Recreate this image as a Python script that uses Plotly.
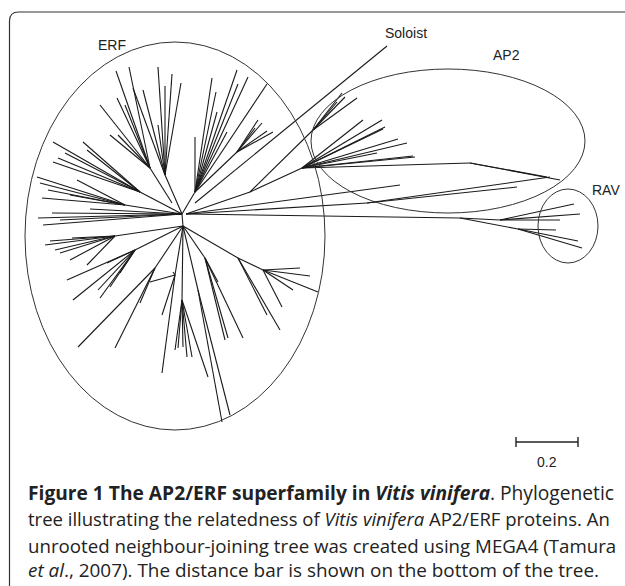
import plotly.graph_objects as go

W, H = 625, 586

# ---- tree layout (pixel-space coordinates) ----
hub_top = (182, 214)
hub_bot = (183, 226)

# ERF clades: (node, parent, tips)
erf_a_node, erf_a_parent = (165, 175), hub_top
erf_a_tips = [(158, 67), (172, 74), (165, 86), (181, 83), (143, 90), (133, 88), (158, 125)]

erf_b_node, erf_b_parent = (150, 168), (172, 203)
erf_b_tips = [(116, 71), (129, 67), (117, 98), (125, 105), (100, 105), (110, 135), (118, 135)]

erf_c_node, erf_c_parent = (140, 192), hub_top
erf_c_tips = [(53, 142), (83, 142), (87, 150), (65, 153), (58, 158), (53, 162)]

erf_d_node, erf_d_parent = (125, 205), hub_top
erf_d_tips = [(37, 177), (77, 180), (40, 183), (42, 198), (70, 195), (48, 190)]

erf_e_node, erf_e_parent = hub_top, hub_top
erf_e_tips = [(52, 213), (90, 209), (38, 218), (43, 225), (60, 220)]

erf_f_node, erf_f_parent = (115, 236), hub_bot
erf_f_tips = [(45, 245), (55, 250), (60, 253), (72, 238), (70, 260), (87, 265), (50, 241)]

erf_g_node, erf_g_parent = (135, 250), hub_bot
erf_g_tips = [(67, 280), (73, 300), (98, 290), (100, 298), (110, 287), (120, 273), (107, 263)]

erf_h_node, erf_h_parent = (155, 268), hub_bot
erf_h_tips = [(78, 347), (115, 348), (140, 303)]

erf_i_node, erf_i_parent = (175, 275), hub_bot
erf_i_tips = [(162, 315), (162, 373), (150, 282), (173, 272)]

erf_j_node, erf_j_parent = (182, 300), hub_bot
erf_j_tips = [(175, 350), (178, 348), (183, 347), (187, 357), (192, 357), (208, 377)]

erf_k_node, erf_k_parent = (198, 290), hub_bot
erf_k_tips = [(222, 422), (230, 415)]

erf_l_node, erf_l_parent = (205, 258), hub_bot
erf_l_tips = [(225, 340), (228, 338), (243, 338), (218, 282)]

erf_m_node, erf_m_parent = (238, 258), hub_bot
erf_m_tips = [(267, 315), (280, 330)]
erf_m2_node, erf_m2_parent = (263, 270), (238, 258)
erf_m2_tips = [(300, 268), (310, 276), (293, 290), (282, 307), (318, 292)]

erf_n_node, erf_n_parent = (195, 192), hub_top
erf_n_tips = [(212, 78), (237, 70), (248, 77), (216, 92), (238, 84), (217, 112),
              (195, 137), (227, 132), (267, 84)]
erf_o_node, erf_o_parent = (237, 152), (195, 192)
erf_o_tips = [(258, 120), (262, 123), (273, 132), (267, 131), (255, 128)]

# Soloist
soloist_node, soloist_parent = (387, 46), (195, 203)

# AP2
ap2_root = (186, 214)
ap2_p0 = (250, 192)
ap2_fan_node = (302, 168)
ap2_fan_tips = [(363, 120), (382, 120), (385, 127), (383, 129), (398, 139),
                (407, 143), (415, 157), (377, 153), (413, 156)]
ap2_sub_node = (313, 130)
ap2_sub_tips = [(342, 93), (345, 97), (357, 98), (337, 102)]
ap2_long_node = (470, 163)
ap2_long_tips = [(560, 180), (547, 177)]
ap2_mid_tip = (400, 185)
ap2_low_node = (367, 203)
ap2_low_tips = [(550, 177), (517, 187)]

# RAV
rav_line_node = (460, 218)
rav_node_a = (500, 220)
rav_tips_a = [(574, 204), (580, 214), (560, 220)]
rav_node_b = (518, 229)
rav_tips_b = [(556, 230), (578, 241), (582, 248)]

# ---- build segments ----
xs, ys = [], []


def seg(p, q):
    xs.extend([p[0], q[0], None])
    ys.extend([p[1], q[1], None])


seg(hub_top, hub_bot)
for node, parent, tips in [
    (erf_a_node, erf_a_parent, erf_a_tips), (erf_b_node, erf_b_parent, erf_b_tips),
    (erf_c_node, erf_c_parent, erf_c_tips), (erf_d_node, erf_d_parent, erf_d_tips),
    (erf_e_node, erf_e_parent, erf_e_tips), (erf_f_node, erf_f_parent, erf_f_tips),
    (erf_g_node, erf_g_parent, erf_g_tips), (erf_h_node, erf_h_parent, erf_h_tips),
    (erf_i_node, erf_i_parent, erf_i_tips), (erf_j_node, erf_j_parent, erf_j_tips),
    (erf_k_node, erf_k_parent, erf_k_tips), (erf_l_node, erf_l_parent, erf_l_tips),
    (erf_m_node, erf_m_parent, erf_m_tips), (erf_m2_node, erf_m2_parent, erf_m2_tips),
    (erf_n_node, erf_n_parent, erf_n_tips), (erf_o_node, erf_o_parent, erf_o_tips),
]:
    if node != parent:
        seg(parent, node)
    for t in tips:
        seg(node, t)

seg(soloist_parent, soloist_node)
seg(ap2_root, ap2_p0)
seg(ap2_p0, ap2_fan_node)
for t in ap2_fan_tips:
    seg(ap2_fan_node, t)
seg(ap2_p0, ap2_sub_node)
for t in ap2_sub_tips:
    seg(ap2_sub_node, t)
seg(ap2_fan_node, ap2_long_node)
for t in ap2_long_tips:
    seg(ap2_long_node, t)
seg(ap2_root, ap2_mid_tip)
seg(ap2_root, ap2_low_node)
for t in ap2_low_tips:
    seg(ap2_low_node, t)
seg(ap2_root, rav_line_node)
seg(rav_line_node, rav_node_a)
for t in rav_tips_a:
    seg(rav_node_a, t)
seg(rav_line_node, rav_node_b)
for t in rav_tips_b:
    seg(rav_node_b, t)

fig = go.Figure()
fig.add_trace(go.Scatter(x=xs, y=ys, mode="lines",
                         line=dict(color="#1a1a1a", width=1.1),
                         hoverinfo="skip", showlegend=False))

# scale bar (0.2 distance units)
scale_x = [516, 578]
scale_y = 442
fig.add_trace(go.Scatter(x=[scale_x[0], scale_x[1], None, scale_x[0], scale_x[0], None, scale_x[1], scale_x[1]],
                         y=[scale_y, scale_y, None, scale_y - 5, scale_y + 5, None, scale_y - 5, scale_y + 5],
                         mode="lines", line=dict(color="#222", width=1.4),
                         hoverinfo="skip", showlegend=False))

# group ellipses: (cx, cy, rx, ry)
groups = [("ERF", 175, 236, 150, 194), ("AP2", 448, 141, 137, 72), ("RAV", 568, 226, 30, 37)]
shapes = []
for name, cx, cy, rx, ry in groups:
    shapes.append(dict(type="circle", xref="x", yref="y", x0=cx - rx, x1=cx + rx,
                       y0=cy - ry, y1=cy + ry, line=dict(color="#333", width=1)))
# figure frame with rounded top-left corner
shapes.append(dict(type="path", xref="x", yref="y",
                   path="M 9.5,590 L 9.5,21 Q 9.5,12 18.5,12 L 630,12",
                   line=dict(color="#333", width=1.2)))

labels = [("ERF", 112, 45), ("Soloist", 406, 33), ("AP2", 506, 55), ("RAV", 606, 190)]
annotations = []
for txt, x, y in labels:
    annotations.append(dict(text=txt, x=x, y=y, xref="x", yref="y", showarrow=False,
                            font=dict(family="Liberation Sans, Arial", size=14, color="#222"),
                            xanchor="center", yanchor="middle"))
annotations.append(dict(text="0.2", x=547, y=462, xref="x", yref="y", showarrow=False,
                        font=dict(family="Liberation Sans, Arial", size=14, color="#222"),
                        xanchor="center", yanchor="middle"))

caption_lines = [
    "<b>Figure 1 The AP2/ERF superfamily in <i>Vitis vinifera</i></b>. Phylogenetic",
    "tree illustrating the relatedness of <i>Vitis vinifera</i> AP2/ERF proteins. An",
    "unrooted neighbour-joining tree was created using MEGA4 (Tamura",
    "<i>et al</i>., 2007). The distance bar is shown on the bottom of the tree.",
]
caption_y = [492, 518, 545, 570]
caption_size = [19.2, 18.5, 18.7, 18.9]
for txt, y, fs in zip(caption_lines, caption_y, caption_size):
    annotations.append(dict(text=txt, x=26, y=y, xref="x", yref="y", showarrow=False,
                            font=dict(family="Open Sans", size=fs, color="#222"),
                            xanchor="left", yanchor="middle"))

fig.update_layout(
    width=W, height=H, margin=dict(l=0, r=0, t=0, b=0),
    paper_bgcolor="white", plot_bgcolor="white",
    xaxis=dict(range=[0, W], visible=False, fixedrange=True),
    yaxis=dict(range=[H, 0], visible=False, fixedrange=True),
    shapes=shapes, annotations=annotations,
)
fig.write_html("out.html", config={"displayModeBar": False},
               post_script="document.body.style.margin='0';document.body.style.overflow='hidden';")
